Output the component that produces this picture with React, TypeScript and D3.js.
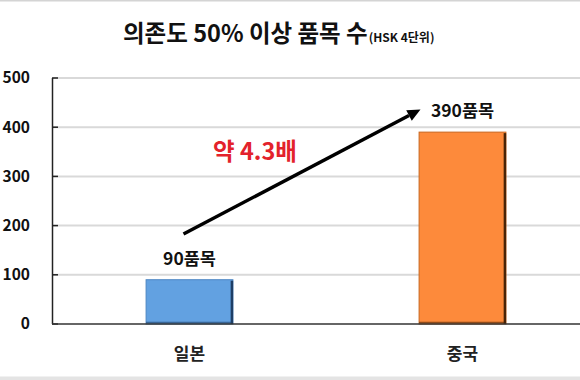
import React from "react";
import * as d3 from "d3";

const categories = ["일본", "중국"];
const values = [90, 390];
const valueLabels = ["90품목", "390품목"];
const yTicks = [0, 100, 200, 300, 400, 500];
const titleMain = "의존도 50% 이상 품목 수";
const titleSub = "(HSK 4단위)";
const ratioLabel = "약 4.3배";
// arrow annotation in data units
const arrowFromValue = 183;
const arrowToValue = 436;
const ratioLabelValue = 350;

const W = 580;
const H = 380;
const FONT = "'Noto Sans CJK KR', 'Noto Sans', sans-serif";

const barStyles = [
  { fill: "#62a1e1", light: "#4d86c2", dark: "#1f3f66" },
  { fill: "#fd8a3b", light: "#c8671f", dark: "#4a2406" },
];

export default function App() {
  const y = d3.scaleLinear().domain([0, 500]).range([324, 78]);
  const x = d3.scalePoint<string>().domain(categories).range([53, 599]).padding(0.5);
  const step = x.step();
  const bw = step * 0.318;

  const arrowStart: [number, number] = [(x(categories[0]) as number) - 6, y(arrowFromValue)];
  const arrowEnd: [number, number] = [(x(categories[1]) as number) - 42, y(arrowToValue)];
  const ang = Math.atan2(arrowEnd[1] - arrowStart[1], arrowEnd[0] - arrowStart[0]);
  const headLen = 13;
  const headW = 6;
  const base: [number, number] = [arrowEnd[0] - headLen * Math.cos(ang), arrowEnd[1] - headLen * Math.sin(ang)];
  const px = -Math.sin(ang), py = Math.cos(ang);
  const head = [
    arrowEnd,
    [base[0] + headW * px, base[1] + headW * py],
    [base[0] - headW * px, base[1] - headW * py],
  ];

  return (
    <>
      <style>{"body{margin:0}"}</style>
      <svg width={W} height={H} style={{ display: "block", background: "#fff" }} fontFamily={FONT}>
        <rect x={0} y={0} width={W} height={1.5} fill="#d4d4d4" />
        <rect x={0} y={376.5} width={W} height={3.5} fill="#e4e4e4" />
        <text x={123} y={42} textAnchor="start" fontWeight={700} fill="#111">
          <tspan fontSize={23.5}>{titleMain}</tspan>
          <tspan fontSize={12} dx={1}>{titleSub}</tspan>
        </text>
        {yTicks.filter((t) => t > 0).map((t) => (
          <line key={t} x1={53} x2={W} y1={y(t)} y2={y(t)} stroke="#d9d9d9" strokeWidth={2} />
        ))}
        {yTicks.map((t) => (
          <g key={"t" + t}>
            <line x1={52} x2={58} y1={y(t)} y2={y(t)} stroke="#222" strokeWidth={1.5} />
            <text x={30} y={y(t)} dy="0.35em" textAnchor="end" fontSize={15.5} fontWeight={700} fill="#111">{t}</text>
          </g>
        ))}
        {categories.map((c, i) => {
          const cx = x(c) as number;
          const x0 = cx - bw / 2;
          const y0 = y(values[i]);
          const h = y(0) - y0;
          const s = barStyles[i];
          return (
            <g key={c}>
              <rect x={x0} y={y0} width={bw} height={h} fill={s.fill} stroke={s.light} strokeWidth={1} />
              <line x1={x0 + bw - 1} x2={x0 + bw - 1} y1={y0 + 1} y2={y(0)} stroke={s.dark} strokeWidth={2.5} />
              <line x1={x0} x2={x0 + bw} y1={y(0) - 1.5} y2={y(0) - 1.5} stroke={s.dark} strokeWidth={1.5} opacity={0.6} />
              <text x={cx} y={y0 - 21} dy="0.35em" textAnchor="middle" fontSize={17.5} fontWeight={700} fill="#111">{valueLabels[i]}</text>
              <text x={cx} y={354} dy="0.35em" textAnchor="middle" fontSize={17} fontWeight={700} fill="#222">{c}</text>
            </g>
          );
        })}
        <line x1={52.5} x2={52.5} y1={y(500)} y2={y(0)} stroke="#222" strokeWidth={1.5} />
        <line x1={52} x2={W} y1={y(0)} y2={y(0)} stroke="#333" strokeWidth={1.5} />
        <line x1={arrowStart[0]} y1={arrowStart[1]} x2={base[0]} y2={base[1]} stroke="#000" strokeWidth={3.5} />
        <polygon points={head.map((p) => p.join(",")).join(" ")} fill="#000" />
        <text x={255} y={y(ratioLabelValue)} dy="0.35em" textAnchor="middle" fontSize={23.5} fontWeight={700} fill="#e3222b">{ratioLabel}</text>
      </svg>
    </>
  );
}
